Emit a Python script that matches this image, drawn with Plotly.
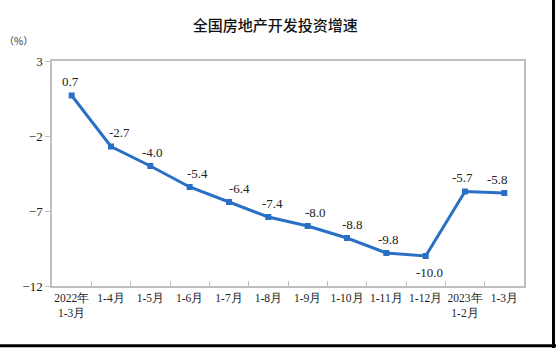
import plotly.graph_objects as go

# Monthly cumulative growth of national real-estate development investment (%)
periods = ["2022年<br>1-3月", "1-4月", "1-5月", "1-6月", "1-7月", "1-8月",
           "1-9月", "1-10月", "1-11月", "1-12月", "2023年<br>1-2月", "1-3月"]
growth = [0.7, -2.7, -4.0, -5.4, -6.4, -7.4, -8.0, -8.8, -9.8, -10.0, -5.7, -5.8]
y_ticks = [3, -2, -7, -12]

# horizontal nudges for the value labels (px)
label_dx = [-1, 8, 2, 8, 10, 4, 8, 5, 2, 4, -3, -7]

SERIF = "'Times New Roman', 'Liberation Serif', serif"
LINE = "#2970C4"
GRID = "#BFBFBF"

fig = go.Figure()
fig.add_trace(go.Scatter(
    x=periods, y=growth, mode="lines+markers",
    line=dict(color=LINE, width=3),
    marker=dict(symbol="square", size=6, color=LINE),
    hoverinfo="skip", showlegend=False,
))

for cat, val, dx in zip(periods, growth, label_dx):
    below = val == min(growth)
    fig.add_annotation(
        x=cat, y=val, text=f"{val:.1f}", showarrow=False,
        xshift=dx, yshift=-16 if below else 14,
        font=dict(family=SERIF, size=13, color="#222222"),
    )

fig.update_layout(
    width=556, height=348,
    margin=dict(l=52, r=32, t=61, b=62),
    paper_bgcolor="white", plot_bgcolor="white",
    title=dict(text="全国房地产开发投资增速", x=0.495, xanchor="center",
               y=0.925, yanchor="middle",
               font=dict(family="Noto Sans CJK SC", size=15, color="#111111",
                         weight=500)),
    xaxis=dict(
        type="category", showline=True, linecolor=GRID, linewidth=1.5,
        mirror=True, ticks="inside", tickson="boundaries", ticklen=5,
        tickcolor=GRID, showgrid=False, tickangle=0,
        tickfont=dict(family=SERIF, size=11.5, color="#222222"),
        range=[-0.5, len(periods) - 0.5],
    ),
    yaxis=dict(
        range=[-12, 3], tickvals=y_ticks, showline=True, linecolor=GRID,
        linewidth=1.5, mirror=True, ticks="outside", ticklen=5, tickcolor=GRID,
        showgrid=False, zeroline=False,
        tickfont=dict(family=SERIF, size=13, color="#222222"),
    ),
    font=dict(family=SERIF),
)

fig.add_annotation(
    xref="paper", yref="paper", x=-0.072, y=1.09, text="（%）",
    showarrow=False, xanchor="center", yanchor="middle",
    font=dict(family="Noto Sans CJK SC", size=10, color="#333333"),
)

# frame edges on the right and bottom of the page
fig.add_shape(type="line", xref="paper", yref="paper",
              x0=1.0625, x1=1.0625, y0=-0.3, y1=1.3,
              line=dict(color="black", width=3))
fig.add_shape(type="line", xref="paper", yref="paper",
              x0=-0.2, x1=1.1, y0=-0.265, y1=-0.265,
              line=dict(color="black", width=3))

fig.write_html("out.html")
